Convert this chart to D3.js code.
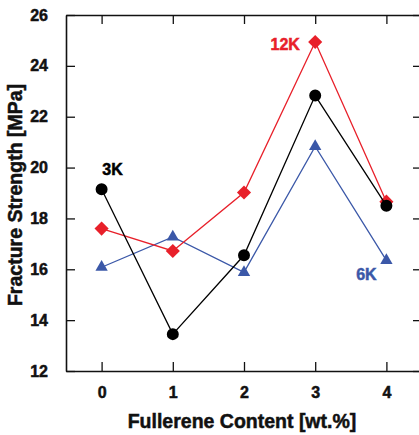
<!DOCTYPE html>
<html><head><meta charset="utf-8">
<script src="https://cdn.jsdelivr.net/npm/d3@7"></script>
<style>
body{margin:0;background:#fff;}
text{font-family:"Liberation Sans",Arial,sans-serif;font-weight:bold;}
</style></head>
<body><div id="chart"></div>
<script>
const contents = [0, 1, 2, 3, 4];
const series3K = [19.15, 13.45, 16.55, 22.83, 18.5];
const series6K = [16.08, 17.27, 15.88, 20.83, 16.35];
const series12K = [17.6, 16.72, 19.02, 24.94, 18.66];
const yTicks = [12, 14, 16, 18, 20, 22, 24, 26];
const xTicks = [0, 1, 2, 3, 4];

(function () {
const W = 419, H = 435;
const m = {left: 66, top: 15, right: -3, bottom: 64};
const svg = d3.select("#chart").append("svg").attr("width", W).attr("height", H);
const x = d3.scaleLinear().domain([-0.5, 4.5]).range([m.left, W - m.right]);
const y = d3.scaleLinear().domain([12, 26]).range([H - m.bottom, m.top]);
const TL = 9;

const g = svg.append("g");
const axB = g.append("g").attr("transform", `translate(0,${y(12)})`)
  .call(d3.axisBottom(x).tickValues(xTicks).tickSizeInner(-TL).tickSizeOuter(0).tickPadding(16).tickFormat(d3.format("d")));
const axT = g.append("g").attr("transform", `translate(0,${y(26)})`)
  .call(d3.axisTop(x).tickValues(xTicks).tickSizeInner(-TL).tickSizeOuter(0).tickFormat(""));
const axL = g.append("g").attr("transform", `translate(${x(-0.5)},0)`)
  .call(d3.axisLeft(y).tickValues(yTicks).tickSizeInner(-TL).tickSizeOuter(0).tickPadding(18).tickFormat(d3.format("d")));
const axR = g.append("g").attr("transform", `translate(${x(4.5)},0)`)
  .call(d3.axisRight(y).tickValues(yTicks).tickSizeInner(-TL).tickSizeOuter(0).tickFormat(""));
g.selectAll(".domain").attr("stroke", "#111").attr("stroke-width", 1.6);
g.selectAll(".tick line").attr("stroke", "#111").attr("stroke-width", 1.3);
g.selectAll(".tick text").attr("fill", "#111").attr("stroke", "#111").attr("stroke-width", 0.5)
  .style("font-size", "16px").style("font-family", "'Liberation Sans',Arial,sans-serif").style("font-weight", "bold");

svg.append("text").attr("x", (x(-0.5) + x(4.5)) / 2 - 2).attr("y", 428).attr("text-anchor", "middle")
  .style("font-size", "19.5px").attr("fill", "#111").attr("stroke", "#111").attr("stroke-width", 0.5)
  .text("Fullerene Content [wt.%]");
svg.append("text").attr("transform", `translate(22,195) rotate(-90)`).attr("text-anchor", "middle")
  .style("font-size", "19.5px").attr("fill", "#111").attr("stroke", "#111").attr("stroke-width", 0.5)
  .text("Fracture Strength [MPa]");

const line = d3.line().x((d, i) => x(contents[i])).y(d => y(d));
const red = "#e8202a", blue = "#3b58a8", black = "#000";

function drawSeries(vals, color, sym, size, rot) {
  svg.append("path").datum(vals).attr("d", line).attr("fill", "none").attr("stroke", color).attr("stroke-width", 1.3);
  svg.append("g").selectAll("path").data(vals).join("path")
    .attr("transform", (d, i) => `translate(${x(contents[i])},${y(d)}) rotate(${rot})`)
    .attr("d", d3.symbol().type(sym).size(size)).attr("fill", color);
}
drawSeries(series6K, blue, d3.symbolTriangle, 66, 0);
drawSeries(series12K, red, d3.symbolSquare, 100, 45);
drawSeries(series3K, black, d3.symbolCircle, 113, 0);

function label(txt, xx, yy, color) {
  svg.append("text").attr("x", xx).attr("y", yy).attr("text-anchor", "middle")
    .style("font-size", "16px").attr("fill", color).attr("stroke", color).attr("stroke-width", 0.5).text(txt);
}
label("3K", x(0) + 11, y(series3K[0]) - 14, black);
label("12K", x(3) - 30, y(series12K[3]) + 8, red);
label("6K", x(4) - 20, y(series6K[4]) + 20, blue);
})();
</script></body></html>
